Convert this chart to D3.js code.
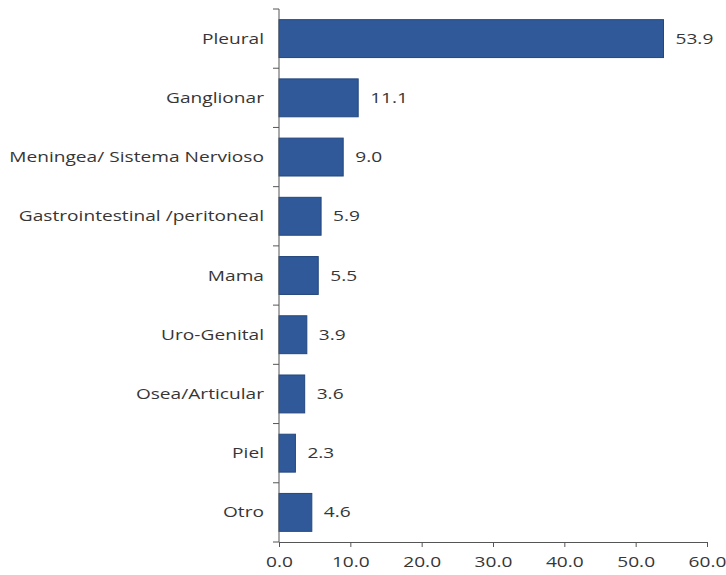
<!DOCTYPE html>
<html>
<head>
<meta charset="utf-8">
<script src="https://cdn.jsdelivr.net/npm/d3@7"></script>
<style>
    body { margin: 0; background: #fff; }
    svg text { font-family: "Open Sans", sans-serif; fill: #363636; }
</style>
</head>
<body>
<svg width="726" height="575"></svg>
<script>
// data
var categories = ["Pleural", "Ganglionar", "Meningea/ Sistema Nervioso", "Gastrointestinal /peritoneal",
    "Mama", "Uro-Genital", "Osea/Articular", "Piel", "Otro"];
var values = [53.9, 11.1, 9.0, 5.9, 5.5, 3.9, 3.6, 2.3, 4.6];
var xTicks = [0, 10, 20, 30, 40, 50, 60];

var svg = d3.select("svg"),
    margin = { top: 9, right: 19, bottom: 33, left: 279 },
    width = +svg.attr("width") - margin.left - margin.right,
    height = +svg.attr("height") - margin.top - margin.bottom,
    g = svg.append("g").attr("transform", "translate(" + margin.left + "," + margin.top + ")");

// text in the picture is stretched sideways
var stretch = 1.32;

var x = d3.scaleLinear().domain([0, 60]).range([0, width]);
var y = d3.scaleBand().domain(categories).range([0, height]).paddingInner(0.36).paddingOuter(0.18);

var data = categories.map(function (c, i) { return { cat: c, val: values[i] }; });

// bars
g.selectAll(".bar")
    .data(data)
    .enter().append("rect")
    .attr("class", "bar")
    .attr("x", 0)
    .attr("y", function (d) { return y(d.cat); })
    .attr("width", function (d) { return x(d.val); })
    .attr("height", y.bandwidth())
    .attr("fill", "#2f5999")
    .attr("stroke", "#23467c")
    .attr("stroke-width", 1);

// value labels
g.selectAll(".val")
    .data(data)
    .enter().append("text")
    .attr("class", "val")
    .attr("transform", function (d) {
        return "translate(" + (x(d.val) + 12) + "," + (y(d.cat) + y.bandwidth() / 2) + ") scale(" + stretch + ",1)";
    })
    .attr("dy", "0.35em")
    .style("font-size", "14.5px")
    .text(function (d) { return d.val.toFixed(1); });

// y axis: line with ticks on the band edges
var step = y.step();
var edges = d3.range(categories.length + 1).map(function (i) { return i * step; });
g.append("line")
    .attr("x1", 0).attr("x2", 0)
    .attr("y1", 0).attr("y2", height)
    .attr("stroke", "#555");
g.selectAll(".ytick")
    .data(edges)
    .enter().append("line")
    .attr("class", "ytick")
    .attr("x1", -6).attr("x2", 0)
    .attr("y1", function (d) { return d; })
    .attr("y2", function (d) { return d; })
    .attr("stroke", "#555");

g.selectAll(".ylab")
    .data(categories)
    .enter().append("text")
    .attr("class", "ylab")
    .attr("transform", function (d) {
        return "translate(-15," + (y(d) + y.bandwidth() / 2) + ") scale(" + stretch + ",1)";
    })
    .attr("dy", "0.35em")
    .attr("text-anchor", "end")
    .style("font-size", "14.5px")
    .text(function (d) { return d; });

// x axis
var xAxis = g.append("g")
    .attr("transform", "translate(0," + height + ")")
    .call(d3.axisBottom(x).tickValues(xTicks).tickFormat(d3.format(".1f")).tickSize(5).tickSizeOuter(0));
xAxis.selectAll("path, line").attr("stroke", "#555");
xAxis.selectAll("text")
    .attr("y", 0).attr("dy", 0)
    .attr("transform", "translate(0,25) scale(" + stretch + ",1)")
    .style("font-size", "14.5px")
    .style("font-family", "'Open Sans', sans-serif")
    .attr("fill", "#363636");
</script>
</body>
</html>
